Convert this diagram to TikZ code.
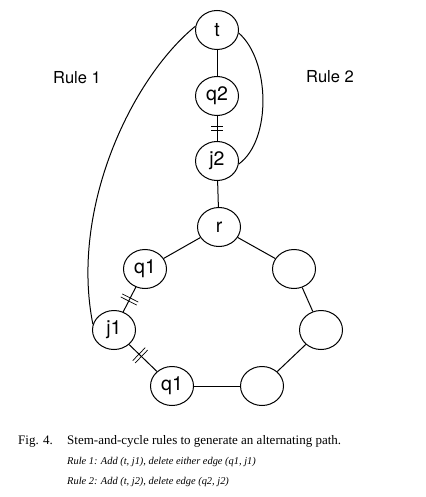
\documentclass[tikz,border=0pt]{standalone}
\usepackage{fontspec}
\setmainfont{Liberation Serif}
\setsansfont{TeX Gyre Heros}
\usepackage{tikz}
\usetikzlibrary{shapes.geometric,decorations.markings}

\begin{document}
\begin{tikzpicture}[
    x=1pt, y=-1pt,
    vtx/.style={draw, ellipse, line width=1pt, minimum width=43pt, minimum height=39pt, inner sep=0pt,
      font=\sffamily\fontsize{19.5}{21}\selectfont},
    edge/.style={line width=1pt},
    cut/.style 2 args={postaction={decorate}, decoration={markings, mark=at position #1 with {
      \draw[line width=0.7pt] (-1.7pt,-#2) -- (-1.7pt,#2) (1.7pt,-#2) -- (1.7pt,#2);}}},
    rulelab/.style={font=\sffamily\fontsize{16.5}{18}\selectfont},
    captext/.style={anchor=base west, inner sep=0pt},
  ]
  \useasboundingbox (0,0) rectangle (425,497);

  % stem
  \node[vtx] (t) at (217,30) {t};
  \node[vtx] (q2) at (217,96) {q2};
  \node[vtx] (j2) at (217,161) {j2};
  \node[vtx] (r) at (219,227) {r};

  % cycle
  \node[vtx] (q1a) at (145,269) {q1};
  \node[vtx] (c1) at (294,269) {};
  \node[vtx] (j1) at (114,330) {j1};
  \node[vtx] (c2) at (321,330) {};
  \node[vtx] (q1b) at (172,386) {q1};
  \node[vtx] (c3) at (262,386) {};

  % rule labels
  \node[rulelab] (rule1) at (77,78) {Rule 1};
  \node[rulelab] (rule2) at (330,77) {Rule 2};

  % edges
  \draw[edge] (t) -- (q2);
  \draw[edge, cut={0.5}{6pt}] (q2) -- (j2);
  \draw[edge] (j2) -- (r);
  \draw[edge] (r) -- (q1a);
  \draw[edge, cut={0.5}{9pt}] (q1a) -- (j1);
  \draw[edge, cut={0.4}{9pt}] (j1) -- (q1b);
  \draw[edge] (q1b) -- (c3);
  \draw[edge] (c3) -- (c2);
  \draw[edge] (c2) -- (c1);
  \draw[edge] (c1) -- (r);

  % added edges
  \draw[edge] (t.170) .. controls (130,80) and (70,210) .. (j1.165);
  \draw[edge] (t.-8) .. controls (270,60) and (272,140) .. (j2.-8);

  % caption
  \node[captext, font=\fontsize{13}{15}\selectfont] (fig) at (18,444) {Fig. 4.};
  \node[captext, font=\fontsize{13}{15}\selectfont] (title) at (67,444) {Stem-and-cycle rules to generate an alternating path.};
  \node[captext, font=\itshape\fontsize{10.4}{12}\selectfont] (r1text) at (67,464) {Rule 1: Add (t, j1), delete either edge (q1, j1)};
  \node[captext, font=\itshape\fontsize{10.4}{12}\selectfont] (r2text) at (67,484) {Rule 2: Add (t, j2), delete edge (q2, j2)};
\end{tikzpicture}
\end{document}
